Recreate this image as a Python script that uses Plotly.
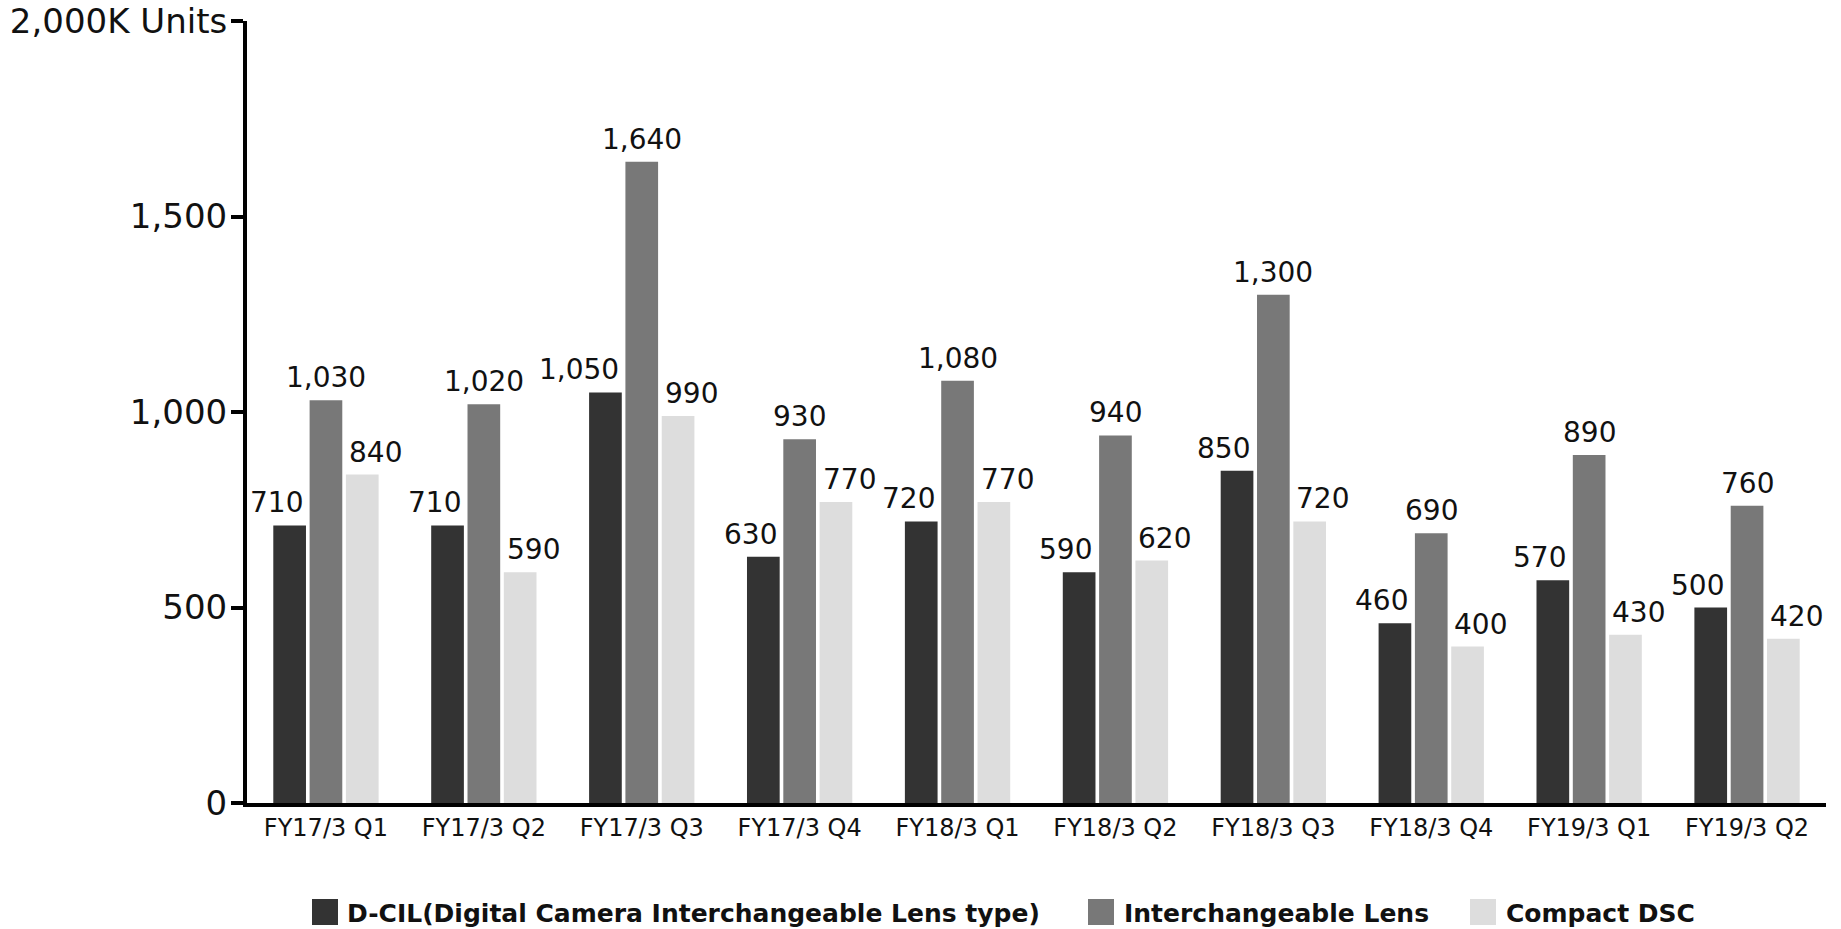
import plotly.graph_objects as go

# Quarterly shipments, thousands of units
quarters = ["FY17/3 Q1", "FY17/3 Q2", "FY17/3 Q3", "FY17/3 Q4", "FY18/3 Q1",
            "FY18/3 Q2", "FY18/3 Q3", "FY18/3 Q4", "FY19/3 Q1", "FY19/3 Q2"]
dcil = [710, 710, 1050, 630, 720, 590, 850, 460, 570, 500]
lens = [1030, 1020, 1640, 930, 1080, 940, 1300, 690, 890, 760]
compact = [840, 590, 990, 770, 770, 620, 720, 400, 430, 420]

series_names = ["D-CIL(Digital Camera Interchangeable Lens type)",
                "Interchangeable Lens", "Compact DSC"]
colors = ["#333333", "#787878", "#dddddd"]

y_tickvals = [0, 500, 1000, 1500, 2000]
y_ticktext = ["0", "500", "1,000", "1,500", "2,000K Units"]

W, H = 1841, 929
ML, MR, MT, MB = 247, 15, 21, 126
PW, PH = W - ML - MR, H - MT - MB
FONT = "DejaVu Sans"


def px_to_paper_x(px):
    return (px - ML) / PW


def px_to_paper_y(py):
    return (H - MB - py) / PH


fig = go.Figure()
all_series = [dcil, lens, compact]
for name, vals, col in zip(series_names, all_series, colors):
    fig.add_trace(go.Bar(x=quarters, y=vals, name=name, marker_color=col,
                         marker_line_width=0, showlegend=False))

# value labels above each bar
annotations = []
label_cfg = [(-21, "right"), (0, "center"), (21, "left")]
for vals, (dx, anchor) in zip(all_series, label_cfg):
    for q, v in zip(quarters, vals):
        annotations.append(dict(
            x=q, y=v, xref="x", yref="y", text=f"{v:,}", showarrow=False,
            xanchor=anchor, yanchor="bottom", xshift=dx, yshift=4,
            font=dict(family=FONT, size=28, color="#111111")))

# legend row under the chart
shapes = []
legend_items = [(312, 345), (1088, 1122), (1470, 1504)]
for (sx, tx), name, col in zip(legend_items, series_names, colors):
    shapes.append(dict(type="rect", xref="paper", yref="paper",
                       x0=px_to_paper_x(sx), x1=px_to_paper_x(sx + 26),
                       y0=px_to_paper_y(925), y1=px_to_paper_y(899),
                       fillcolor=col, line_width=0))
    annotations.append(dict(
        x=px_to_paper_x(tx), y=px_to_paper_y(913), xref="paper", yref="paper",
        text=f"<b>{name}</b>", showarrow=False, xanchor="left", yanchor="middle",
        font=dict(family=FONT, size=25, color="#111111")))

fig.update_layout(
    width=W, height=H,
    margin=dict(l=ML, r=MR, t=MT, b=MB, pad=0, autoexpand=False),
    plot_bgcolor="white", paper_bgcolor="white",
    barmode="group", bargap=0.31, bargroupgap=0.1,
    font=dict(family=FONT, color="#111111"),
    annotations=annotations, shapes=shapes,
    xaxis=dict(showline=True, linecolor="black", linewidth=4, ticks="",
               tickfont=dict(family=FONT, size=24, color="#111111"),
               showgrid=False, zeroline=False, range=[-0.5, 9.5],
               automargin=False),
    yaxis=dict(range=[0, 2000], tickvals=y_tickvals, ticktext=y_ticktext,
               showline=True, linecolor="black", linewidth=4,
               ticks="outside", ticklen=12, tickwidth=4, tickcolor="black",
               tickfont=dict(family=FONT, size=34, color="#111111"),
               showgrid=False, zeroline=False, ticklabelstandoff=-3,
               automargin=False),
)

fig.write_html("out.html")
